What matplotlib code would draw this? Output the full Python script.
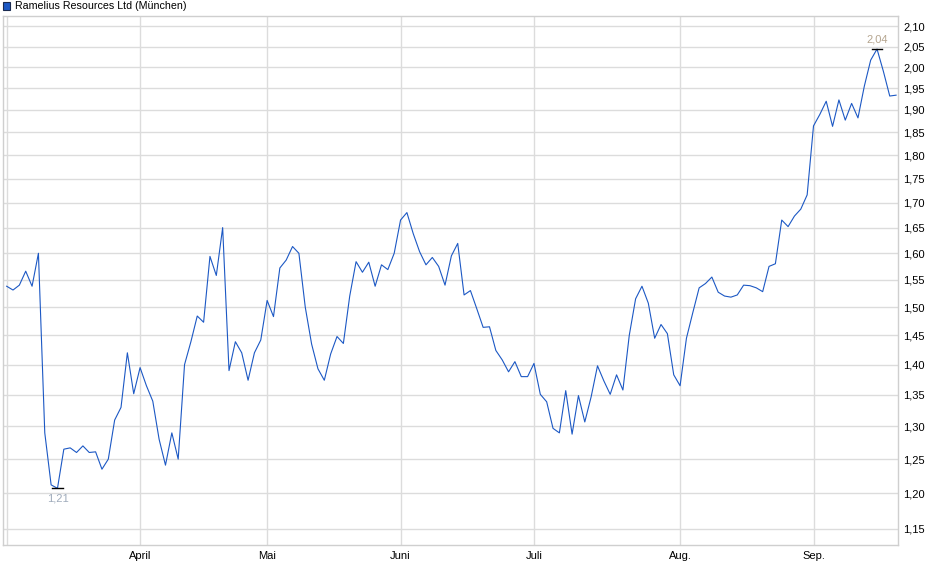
import numpy as np
import matplotlib
matplotlib.use('Agg')
import matplotlib.pyplot as plt
from matplotlib.patches import Rectangle
from matplotlib.ticker import NullLocator

title = 'Ramelius Resources Ltd (München)'

# one value per trading day (EUR)
prices = [
    1.538, 1.531, 1.540, 1.566, 1.538, 1.600, 1.290, 1.212, 1.207, 1.265,
    1.267, 1.260, 1.270, 1.260, 1.261, 1.235, 1.250, 1.310, 1.330, 1.420,
    1.352, 1.395, 1.365, 1.340, 1.280, 1.241, 1.290, 1.250, 1.400, 1.439,
    1.484, 1.473, 1.594, 1.558, 1.650, 1.390, 1.439, 1.420, 1.374, 1.420,
    1.442, 1.512, 1.483, 1.572, 1.587, 1.613, 1.600, 1.500, 1.435, 1.393,
    1.374, 1.418, 1.448, 1.436, 1.520, 1.584, 1.564, 1.583, 1.538, 1.578,
    1.569, 1.600, 1.665, 1.680, 1.638, 1.603, 1.578, 1.592, 1.575, 1.540,
    1.595, 1.619, 1.522, 1.530, 1.497, 1.464, 1.465, 1.424, 1.408, 1.388,
    1.405, 1.380, 1.380, 1.402, 1.351, 1.339, 1.297, 1.290, 1.357, 1.288,
    1.349, 1.307, 1.347, 1.398, 1.373, 1.351, 1.383, 1.358, 1.450, 1.515,
    1.538, 1.507, 1.445, 1.469, 1.453, 1.383, 1.365, 1.445, 1.490, 1.535,
    1.543, 1.555, 1.527, 1.520, 1.518, 1.522, 1.540, 1.539, 1.535, 1.528,
    1.575, 1.580, 1.665, 1.652, 1.673, 1.687, 1.716, 1.864, 1.890, 1.920,
    1.863, 1.923, 1.877, 1.915, 1.882, 1.955, 2.017, 2.044, 1.990, 1.932,
    1.934,
]

# trading-day index of each month start
month_pos = [0, 21, 41, 62, 83, 106, 127]
month_labels = ['', 'April', 'Mai', 'Juni', 'Juli', 'Aug.', 'Sep.']

y_ticks = [1.15, 1.20, 1.25, 1.30, 1.35, 1.40, 1.45, 1.50, 1.55, 1.60,
           1.65, 1.70, 1.75, 1.80, 1.85, 1.90, 1.95, 2.00, 2.05, 2.10]

line_col = '#1c58c4'
grid_col = '#dcdcdc'

plt.rcParams['font.family'] = ['Liberation Sans', 'DejaVu Sans']

fig = plt.figure(figsize=(9.4, 5.79), dpi=100)
ax = fig.add_axes([3 / 940, 1 - 545 / 579, 895 / 940, 529 / 579])

x = np.arange(len(prices))
ax.plot(x, prices, color=line_col, lw=0.8, zorder=3)

ax.set_yscale('log')
ax.set_ylim(1.1277, 2.1266)
ax.set_xlim(-0.575, 140.3)

ax.yaxis.tick_right()
ax.set_yticks(y_ticks)
ax.set_yticklabels([f'{v:.2f}'.replace('.', ',') for v in y_ticks])
ax.yaxis.set_minor_locator(NullLocator())
ax.set_xticks(month_pos)
ax.set_xticklabels(month_labels)
ax.tick_params(axis='both', length=0, labelsize=8, colors='black')
ax.tick_params(axis='y', pad=4)
ax.tick_params(axis='x', pad=4)

ax.grid(True, color=grid_col, lw=1)
ax.set_axisbelow(True)
for s in ax.spines.values():
    s.set_color('#cfcfcf')
    s.set_linewidth(1)

# min / max markers
i_min = int(np.argmin(prices))
i_max = int(np.argmax(prices))
for i, off, va, col in [(i_min, -4, 'top', '#9fabbb'), (i_max, 3, 'bottom', '#b5a58f')]:
    p = prices[i]
    ax.plot([i - 0.8, i + 0.8], [p, p], color='black', lw=1, zorder=4)
    ax.annotate(f'{p:.2f}'.replace('.', ','), xy=(i, p), xytext=(0, off),
                textcoords='offset points', ha='center', va=va,
                fontsize=8, color=col)

# legend in the top left
fig.add_artist(Rectangle((3 / 940, 1 - 10 / 579), 7 / 940, 8 / 579,
                         transform=fig.transFigure, facecolor=line_col,
                         edgecolor='#1a2a50', lw=0.8))
fig.text(15 / 940, 1 - 6 / 579, title, fontsize=7.7, va='center', ha='left')

fig.savefig('out.png', dpi=100)
